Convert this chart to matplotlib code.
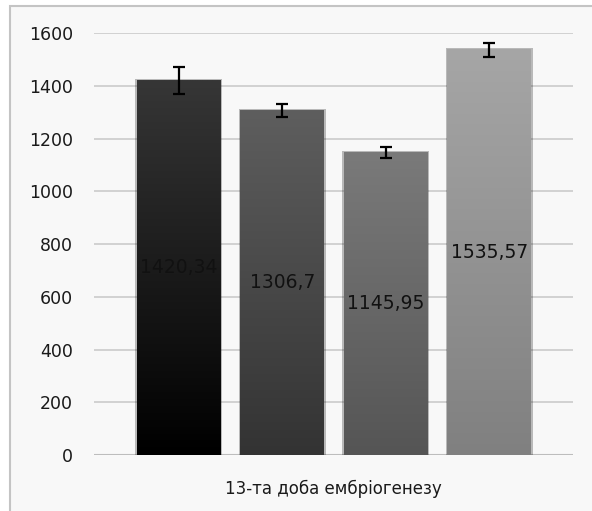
import numpy as np
import matplotlib
matplotlib.use("Agg")
import matplotlib.pyplot as plt
from matplotlib.patches import Rectangle

# data
values = [1420.34, 1306.7, 1145.95, 1535.57]
errors = [52, 25, 20, 25]
labels = ["1420,34", "1306,7", "1145,95", "1535,57"]
# gradient colours per bar (top, bottom)
top_colors = ["#363636", "#5e5e5e", "#7a7a7a", "#a6a6a6"]
bottom_colors = ["#000000", "#333333", "#555555", "#808080"]
xlabel = "13-та доба ембріогенезу"
yticks = [0, 200, 400, 600, 800, 1000, 1200, 1400, 1600]

plt.rcParams['font.family'] = ['DejaVu Sans']

fig = plt.figure(figsize=(5.92, 5.11), dpi=100)
fig.patch.set_facecolor("white")

# the outer chart frame (cut off at right and bottom like the screenshot)
fig.patches.append(Rectangle((10 / 592, -0.05), 1.0, 1 - 6 / 511 + 0.05,
                             transform=fig.transFigure, facecolor="#f8f8f8",
                             edgecolor="#c4c4c4", linewidth=1.5, zorder=-10))

ax = fig.add_axes([94 / 592, 1 - 455 / 511, 479 / 592, 422 / 511])
ax.set_zorder(1)
ax.set_facecolor("none")
ax.set_yticks(yticks)
ax.set_yticklabels([str(t) for t in yticks], fontsize=12.5, color="#1a1a1a")
ax.tick_params(axis="y", length=0, pad=15)
ax.set_xticks([])
for s in ax.spines.values():
    s.set_visible(False)
ax.yaxis.grid(True, color="#cfcfcf", linewidth=1.3)
ax.set_axisbelow(True)

width = 0.81
x = np.arange(len(values))
for i, v in enumerate(values):
    left = x[i] - width / 2
    # soft shadow
    ax.add_patch(Rectangle((left - 0.015, 0), width + 0.03, v + 6,
                           facecolor="#000000", alpha=0.25, edgecolor="none", zorder=2))
    c_top = np.array(matplotlib.colors.to_rgb(top_colors[i]))
    c_bot = np.array(matplotlib.colors.to_rgb(bottom_colors[i]))
    t = np.linspace(0, 1, 256)[:, None]
    grad = (c_top * (1 - t) + c_bot * t)[:, None, :]
    ax.imshow(grad, extent=(left, left + width, 0, v), aspect="auto",
              origin="upper", zorder=3, interpolation="bilinear")
    ax.text(x[i], v / 2, labels[i], ha="center", va="center",
            fontsize=13.5, color="#111111", zorder=5)

ax.errorbar(x, values, yerr=errors, fmt="none", ecolor="black",
            elinewidth=1.6, capsize=4, capthick=1.6, zorder=4)
ax.set_xlim(-0.82, 3.81)
ax.set_ylim(0, 1600)
ax.axhline(0, color="#bdbdbd", linewidth=1.5, zorder=1)

ax.set_xlabel(xlabel, fontsize=12, color="#1a1a1a", labelpad=18)

fig.savefig("out.png", dpi=100)
